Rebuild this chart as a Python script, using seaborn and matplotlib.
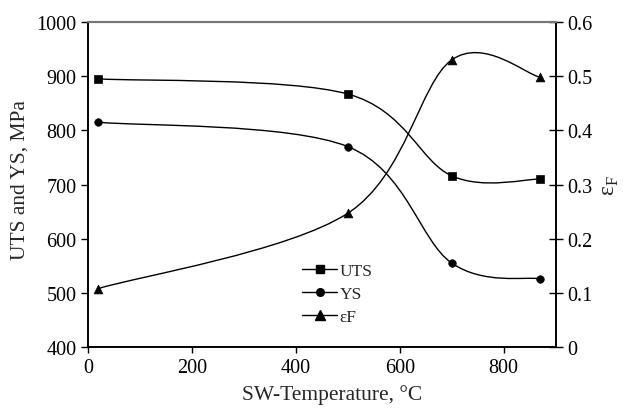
import numpy as np
import pandas as pd
import matplotlib
matplotlib.use("Agg")
import matplotlib.pyplot as plt
from matplotlib.path import Path
from matplotlib.patches import PathPatch
from matplotlib.lines import Line2D
import seaborn as sns

# values
temperature = [20, 500, 700, 870]
uts = [895, 867, 716, 710]
ys = [815, 770, 555, 526]
elong = [0.108, 0.247, 0.530, 0.498]


def smooth_path(x, y):
    # Excel-style smoothed line: cubic Bezier through the points
    pts = np.column_stack([x, y]).astype(float)
    n = len(pts)
    verts = [pts[0]]
    codes = [Path.MOVETO]
    for i in range(n - 1):
        p0 = pts[max(i - 1, 0)]
        p1 = pts[i]
        p2 = pts[i + 1]
        p3 = pts[min(i + 2, n - 1)]
        c1 = p1 + (p2 - p0) / 6.0
        c2 = p2 - (p3 - p1) / 6.0
        verts += [c1, c2, p2]
        codes += [Path.CURVE4] * 3
    return Path(verts, codes)


sns.set_theme(style="ticks")
plt.rcParams["font.family"] = ["Liberation Serif", "DejaVu Serif"]
plt.rcParams["mathtext.fontset"] = "custom"
plt.rcParams["mathtext.rm"] = "Liberation Serif"

df = pd.DataFrame({"T": temperature, "UTS": uts, "YS": ys, "eF": elong})

fig = plt.figure(figsize=(6.23, 4.10), dpi=100)
ax = fig.add_axes([0.141, 0.151, 0.751, 0.793])
ax2 = ax.twinx()

ax.add_patch(PathPatch(smooth_path(df["T"], df["UTS"]), fill=False, color="black", lw=1.0))
ax.add_patch(PathPatch(smooth_path(df["T"], df["YS"]), fill=False, color="black", lw=1.0))
ax2.add_patch(PathPatch(smooth_path(df["T"], df["eF"]), fill=False, color="black", lw=1.0))

sns.scatterplot(data=df, x="T", y="UTS", ax=ax, marker="s", s=36, color="black", edgecolor="black", zorder=3)
sns.scatterplot(data=df, x="T", y="YS", ax=ax, marker="o", s=30, color="black", edgecolor="black", zorder=3)
sns.scatterplot(data=df, x="T", y="eF", ax=ax2, marker="^", s=40, color="black", edgecolor="black", zorder=3)

ax.set_xlim(0, 900)
ax.set_ylim(400, 1000)
ax2.set_ylim(0, 0.6)
ax.set_xticks([0, 200, 400, 600, 800])
ax.set_yticks([400, 500, 600, 700, 800, 900, 1000])
ax2.set_yticks([0, 0.1, 0.2, 0.3, 0.4, 0.5, 0.6])
ax2.set_yticklabels(["0", "0.1", "0.2", "0.3", "0.4", "0.5", "0.6"])

ax.set_xlabel("SW-Temperature, °C", fontsize=15.5)
ax.set_ylabel("UTS and YS, MPa", fontsize=15.5)
ax.xaxis.set_label_coords(0.523, -0.113)
ax.yaxis.set_label_coords(-0.125, 0.517)
ax2.set_ylabel(r"$\mathrm{ε}_{\mathrm{F}}$", fontsize=17, labelpad=6)

ax.tick_params(axis="y", direction="out", length=5, width=1, pad=3, labelsize=14.5, colors="black")
ax.tick_params(axis="x", direction="out", length=4, width=1, pad=4, labelsize=14.5, colors="black")
ax2.tick_params(axis="y", direction="inout", length=10, width=1, pad=3, labelsize=14.5, colors="black")

for a in (ax, ax2):
    for side in ("left", "right", "bottom"):
        a.spines[side].set_color("black")
        a.spines[side].set_linewidth(1.2)
    a.spines["top"].set_color("#777777")
    a.spines["top"].set_linewidth(1.5)

handles = [
    Line2D([], [], color="black", lw=1.0, marker="s", markersize=5.5),
    Line2D([], [], color="black", lw=1.0, marker="o", markersize=5.5),
    Line2D([], [], color="black", lw=1.0, marker="^", markersize=6.5),
]
ax2.legend(handles, ["UTS", "YS", "εF"], loc="lower left", bbox_to_anchor=(0.425, 0.02),
           frameon=False, fontsize=12.5, handlelength=2.0, handletextpad=0.15, labelspacing=0.4)

fig.savefig("out.png", dpi=100)
plt.close(fig)
